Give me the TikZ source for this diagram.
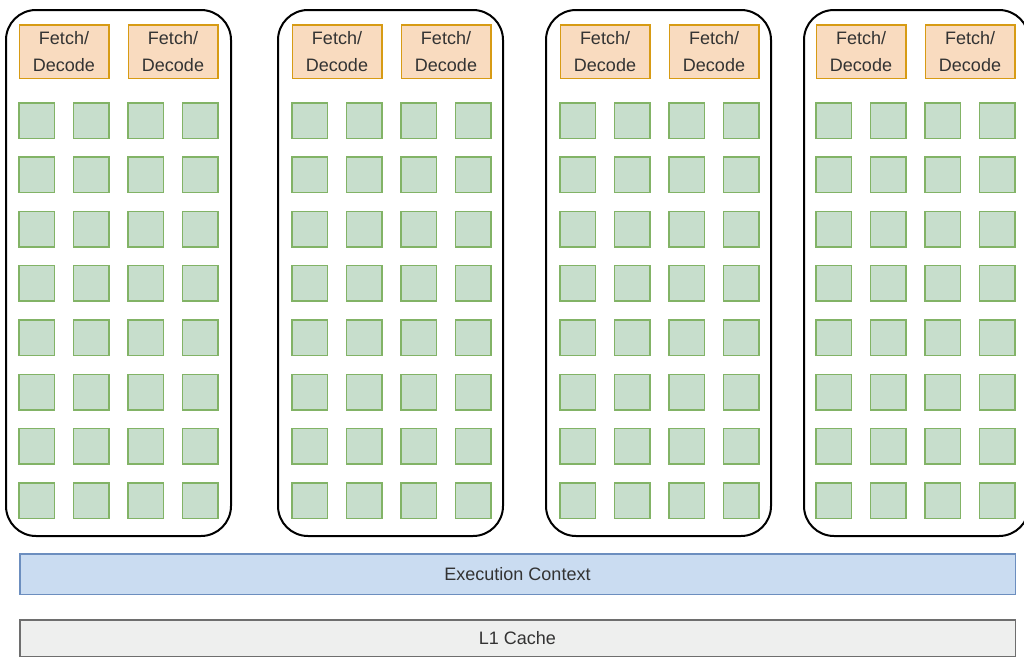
\documentclass[tikz,border=0pt]{standalone}
\usepackage{fontspec}
\setmainfont{Liberation Sans}
\definecolor{AluGreen}{RGB}{199,222,204}
\definecolor{AluEdge}{RGB}{130,179,102}
\definecolor{SoftOrange}{RGB}{249,219,191}
\definecolor{FetchEdge}{RGB}{215,155,20}
\definecolor{SoftBlue}{RGB}{202,220,241}
\definecolor{BlueEdge}{RGB}{108,142,191}
\definecolor{SoftGrey}{RGB}{238,239,238}
\definecolor{GreyEdge}{RGB}{110,110,110}
\definecolor{TextGrey}{RGB}{51,51,51}
\tikzset{
  core/.style={draw=black,line width=2pt,rounded corners=30pt,minimum width=225pt,
    minimum height=526pt,inner sep=0pt},
  fetch/.style={draw=FetchEdge,fill=SoftOrange,line width=1.5pt,minimum width=89.5pt,
    minimum height=53.5pt,inner sep=0pt,align=center,text=TextGrey,
    font=\fontsize{18}{27}\selectfont},
  alu/.style={draw=AluEdge,fill=AluGreen,line width=1.5pt,minimum width=35.5pt,
    minimum height=35.5pt,inner sep=0pt},
  bar/.style={line width=1.5pt,minimum width=995.5pt,inner sep=0pt,text=TextGrey,
    font=\fontsize{18}{27}\selectfont}
}

\begin{document}
\begin{tikzpicture}[x=1pt,y=-1pt]
      \useasboundingbox (0,0) rectangle (1024,656);
      \foreach \c/\b/\s in {1/5/18,2/277/291,3/545/559,4/803/815}{
        \node[core] (core\c) at (\b+113.5,273) {};
        \node[fetch] (fd\c a) at (\s+46,51.5) {Fetch/\\Decode};
        \node[fetch] (fd\c b) at (\s+155,51.5) {Fetch/\\Decode};
        \foreach \i in {0,...,3}{
          \foreach \j in {0,...,7}{
            \node[alu] (alu\c-\i-\j) at (\s+18.5+54.5*\i,120.5+54.3*\j) {};
          }
        }
      }
      \node[bar,draw=BlueEdge,fill=SoftBlue,minimum height=40.5pt] (exec) at (517.5,574) {Execution Context};
      \node[bar,draw=GreyEdge,fill=SoftGrey,minimum height=37pt] (cache) at (517.5,638.5) {L1 Cache};
    \end{tikzpicture}
\end{document}
